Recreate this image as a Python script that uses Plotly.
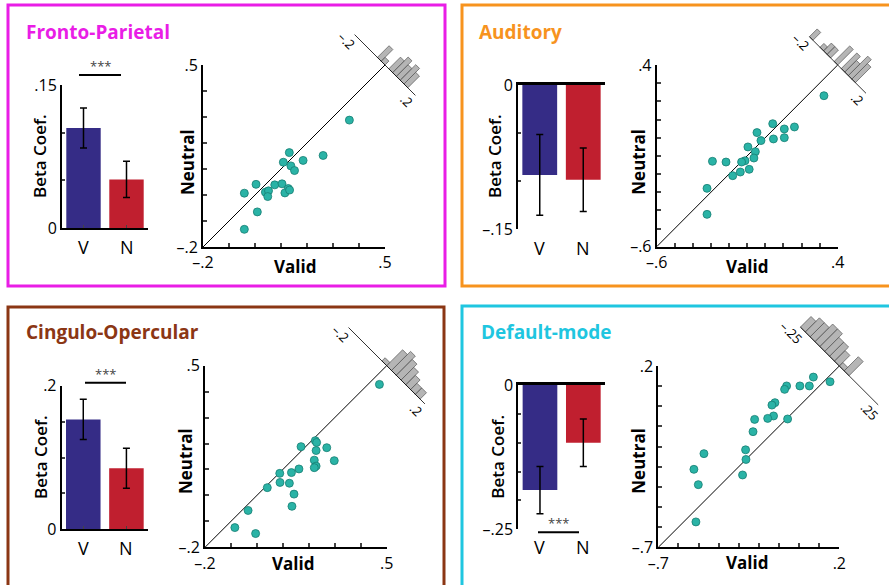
import numpy as np
import plotly.graph_objects as go

W, H = 889, 585
FONT = "Open Sans"

# ---------------- data ----------------
titles = ["Fronto-Parietal", "Auditory", "Cingulo-Opercular", "Default-mode"]
title_colors = ["#e91de6", "#f7931e", "#8b3614", "#1fc6e0"]
conditions = ["V", "N"]

fp_beta = [0.105, 0.051]
fp_sem = [0.021, 0.019]
au_beta = [-0.0935, -0.0985]
au_sem = [0.042, 0.033]
co_beta = [0.153, 0.085]
co_sem = [0.028, 0.028]
dm_beta = [-0.182, -0.100]
dm_sem = [0.041, 0.041]

fp_valid = [0.363, 0.262, 0.185, 0.132, 0.109, 0.138, 0.152, 0.076, 0.104, 0.128,
            0.115, 0.133, 0.004, 0.040, 0.052, 0.049, -0.041, 0.009, -0.041]
fp_neutral = [0.288, 0.152, 0.133, 0.163, 0.126, 0.112, 0.094, 0.039, 0.043, 0.025,
              0.008, 0.019, 0.041, 0.011, 0.016, -0.006, 0.007, -0.065, -0.132]
au_valid = [0.324, 0.161, 0.105, 0.105, 0.045, 0.041, -0.024, -0.046, -0.096, -0.055,
            -0.063, -0.112, -0.131, -0.089, -0.138, -0.180, -0.217, -0.292, -0.322, -0.322]
au_neutral = [0.231, 0.059, 0.048, 0.000, -0.007, 0.077, -0.016, 0.028, -0.051, -0.077,
              -0.112, -0.127, -0.134, -0.174, -0.189, -0.209, -0.134, -0.130, -0.279, -0.422]
co_valid = [0.472, 0.225, 0.230, 0.269, 0.228, 0.170, 0.298, 0.221, 0.228, 0.221, 0.162,
            0.133, 0.088, 0.125, 0.089, 0.040, 0.143, 0.135, -0.034, -0.085, -0.005]
co_neutral = [0.428, 0.211, 0.204, 0.184, 0.173, 0.188, 0.134, 0.136, 0.113, 0.107, 0.102,
              0.088, 0.085, 0.047, 0.050, 0.030, 0.005, -0.042, -0.058, -0.124, -0.147]
dm_valid = [0.154, 0.071, 0.051, 0.004, -0.062, -0.072, -0.120, -0.135, -0.127, -0.156,
            -0.057, -0.221, -0.229, -0.266, -0.264, -0.281, -0.473, -0.523, -0.501, -0.513]
dm_neutral = [0.122, 0.145, 0.101, 0.101, 0.101, 0.084, 0.018, 0.006, -0.048, -0.060,
              -0.063, -0.065, -0.126, -0.216, -0.264, -0.341, -0.235, -0.313, -0.389, -0.574]

# difference histograms (16 equal bins spanning -lim..+lim)
hist_lims = [0.2, 0.2, 0.2, 0.25]
fp_hist = [0, 0, 0, 0, 0, 0, 3, 1, 0, 3, 4, 3, 4, 3, 0, 0]
au_hist = [2, 0, 0, 1, 2, 2, 0, 4, 0, 4, 3, 5, 4, 0, 0, 0]
co_hist = [0, 0, 0, 0, 0, 0, 0, 1, 5, 6, 5, 4, 3, 2, 2, 0]
dm_hist = [3, 4, 4, 5, 5, 4, 4, 3, 1, 4, 0, 0, 0, 0, 0, 0]

scatter_ranges = [[-0.2, 0.5], [-0.6, 0.4], [-0.2, 0.5], [-0.7, 0.2]]
bar_ranges = [[0, 0.15], [-0.15, 0], [0, 0.2], [-0.25, 0]]
bar_ticks = [[0, 0.05, 0.1, 0.15], [-0.15, -0.1, -0.05, 0],
             [0, 0.05, 0.1, 0.15, 0.2], [-0.25, -0.2, -0.15, -0.1, -0.05, 0]]
bar_ticktext = [["0", "", "", ".15"], ["–.15", "", "", "0"],
                ["0", "", "", "", ".2"], ["–.25", "", "", "", "", "0"]]
scatter_ticktext = [["–.2", ".5"], ["–.6", ".4"], ["–.2", ".5"], ["–.7", ".2"]]
hist_ticktext = [["–.2", ".2"], ["–.2", ".2"], ["–.2", ".2"], ["–.25", ".25"]]

betas = [fp_beta, au_beta, co_beta, dm_beta]
sems = [fp_sem, au_sem, co_sem, dm_sem]
valids = [fp_valid, au_valid, co_valid, dm_valid]
neutrals = [fp_neutral, au_neutral, co_neutral, dm_neutral]
hists = [fp_hist, au_hist, co_hist, dm_hist]

# ---------------- layout geometry (pixels) ----------------
borders = [(8, 445, 5, 286), (462, 900, 5, 286), (8, 444, 307, 600), (462, 900, 306, 600)]
bar_box = [(62, 148, 85, 228), (518, 605, 85, 229.3), (61.7, 148, 385.7, 529.3), (518.3, 605, 385, 529.3)]
sc_box = [(203, 385, 65, 247), (656.7, 837.7, 65, 246.7), (205, 386.7, 365.7, 547.3), (658.3, 839.3, 366, 547.3)]
ov_ext = [(445, 2), (889, 0), (445, 300), (889, 300)]  # right px, top px of overlay area
hist_half = [43, 40, 54, 55]
hist_unit = [5.5, 5.5, 4.5, 5.0]
title_pos = [(24, 32), (477, 32), (24, 332), (479, 332)]
beta_lbl = [(40, 156), (495, 156), (40, 457), (496.7, 457)]
neutral_lbl = [(187, 162), (637.7, 162), (185, 461), (637.7, 461)]
valid_lbl = [(295, 267), (746.7, 267), (293.3, 563), (746.7, 562)]
vn_y = [247, 248, 548.3, 546.7]
sig = {0: (79, 121, 75), 2: (85, 126, 382.7), 3: (538, 579, 532.3)}


def PX(px):
    return px / W


def PY(py):
    return 1 - py / H


fig = go.Figure()
layout = dict(template="none", width=W, height=H,
              margin=dict(l=0, r=0, t=0, b=0, pad=0, autoexpand=False),
              paper_bgcolor="white", plot_bgcolor="rgba(0,0,0,0)", showlegend=False,
              font=dict(family=FONT, color="black"))
annotations = []
shapes = []

V_COLOR, N_COLOR = "#352c86", "#c01f2f"
PT_COLOR, PT_EDGE = "#2ab3a6", "#167d72"
TICK_FONT = dict(size=16, color="black")

for i in range(4):
    bi, si, oi = i + 1, i + 5, i + 9
    # ---------- bars ----------
    bx0, bx1, by0, by1 = bar_box[i]
    fig.add_trace(go.Bar(x=[0, 1], y=betas[i], width=0.8,
                         marker=dict(color=[V_COLOR, N_COLOR], line=dict(width=0)),
                         error_y=dict(type="data", array=sems[i], color="black", thickness=1.5, width=3.5),
                         xaxis=f"x{bi}", yaxis=f"y{bi}"))
    neg = bar_ranges[i][1] <= 0
    layout[f"xaxis{bi}"] = dict(domain=[PX(bx0), PX(bx1)], range=[-0.5, 1.5], anchor=f"y{bi}",
                                showline=True, linewidth=2.5 if neg else 2, linecolor="black",
                                side="top" if neg else "bottom",
                                ticks="" if neg else "inside", tickvals=[0, 1], ticklen=3,
                                showticklabels=False, showgrid=False, zeroline=False, fixedrange=True)
    layout[f"yaxis{bi}"] = dict(domain=[PY(by1), PY(by0)], range=bar_ranges[i], anchor=f"x{bi}",
                                showline=True, linewidth=2, linecolor="black", ticks="inside",
                                ticklen=3, tickwidth=1.5, tickvals=bar_ticks[i], ticktext=bar_ticktext[i],
                                tickfont=TICK_FONT, showgrid=False, zeroline=False)
    for k, lab in enumerate(conditions):
        annotations.append(dict(x=k, xref=f"x{bi}", y=PY(vn_y[i]), yref="paper", text=lab,
                                showarrow=False, font=dict(size=18), xanchor="center", yanchor="middle"))
    # ---------- scatter ----------
    sx0, sx1, sy0, sy1 = sc_box[i]
    lo, hi = scatter_ranges[i]
    fig.add_trace(go.Scatter(x=[lo, hi], y=[lo, hi], mode="lines", line=dict(color="black", width=1),
                             xaxis=f"x{si}", yaxis=f"y{si}", hoverinfo="skip"))
    fig.add_trace(go.Scatter(x=valids[i], y=neutrals[i], mode="markers",
                             marker=dict(size=8, color=PT_COLOR, line=dict(color=PT_EDGE, width=0.8)),
                             xaxis=f"x{si}", yaxis=f"y{si}", cliponaxis=False))
    tv = list(np.round(np.arange(lo, hi + 1e-9, 0.1), 2))
    tt = [scatter_ticktext[i][0]] + [""] * (len(tv) - 2) + [scatter_ticktext[i][1]]
    common = dict(showline=True, linewidth=2, linecolor="black", ticks="inside", ticklen=4,
                  tickwidth=1.5, tickvals=tv, ticktext=tt, tickfont=TICK_FONT,
                  showgrid=False, zeroline=False, range=[lo, hi])
    layout[f"xaxis{si}"] = dict(domain=[PX(sx0), PX(sx1)], anchor=f"y{si}", **common)
    layout[f"yaxis{si}"] = dict(domain=[PY(sy1), PY(sy0)], anchor=f"x{si}", **common)
    # ---------- overlay (same scale) for rotated histogram ----------
    ox1, oy0 = ov_ext[i]
    ux = (hi - lo) / (sx1 - sx0)
    uy = (hi - lo) / (sy1 - sy0)
    layout[f"xaxis{oi}"] = dict(domain=[PX(sx0), PX(ox1)], range=[lo, lo + (ox1 - sx0) * ux],
                                anchor=f"y{oi}", visible=False, fixedrange=True)
    layout[f"yaxis{oi}"] = dict(domain=[PY(sy1), PY(oy0)], range=[lo, lo + (sy1 - oy0) * uy],
                                anchor=f"x{oi}", visible=False, fixedrange=True)
    lim = hist_lims[i]
    L = hist_half[i]
    r = 1 / np.sqrt(2)

    def to_data(a, h):
        return hi + (a + h) * r * ux, hi + (h - a) * r * uy

    edges = np.linspace(-lim, lim, len(hists[i]) + 1)
    xs, ys = [], []
    for k, cnt in enumerate(hists[i]):
        if cnt <= 0:
            continue
        a0 = edges[k] / lim * L
        a1 = edges[k + 1] / lim * L
        h = cnt * hist_unit[i]
        for a, hh in [(a0, 0), (a1, 0), (a1, h), (a0, h), (a0, 0)]:
            px_, py_ = to_data(a, hh)
            xs.append(px_)
            ys.append(py_)
        xs.append(None)
        ys.append(None)
    fig.add_trace(go.Scatter(x=xs, y=ys, mode="lines", fill="toself", fillcolor="#b5b5b5",
                             line=dict(color="#666666", width=0.8), xaxis=f"x{oi}", yaxis=f"y{oi}",
                             hoverinfo="skip"))
    e0 = to_data(-L, 0)
    e1 = to_data(L, 0)
    fig.add_trace(go.Scatter(x=[e0[0], e1[0]], y=[e0[1], e1[1]], mode="lines",
                             line=dict(color="black", width=0.8), xaxis=f"x{oi}", yaxis=f"y{oi}",
                             hoverinfo="skip"))
    for a, txt in [(-L - 2, hist_ticktext[i][0]), (L - 2, hist_ticktext[i][1])]:
        lx, ly = to_data(a, -10)
        annotations.append(dict(x=lx, y=ly, xref=f"x{oi}", yref=f"y{oi}", text=txt, textangle=45,
                                showarrow=False, font=dict(size=13), xanchor="center", yanchor="middle"))
    # ---------- text ----------
    tx, ty = title_pos[i]
    annotations.append(dict(x=PX(tx), y=PY(ty), xref="paper", yref="paper", text=f"<b>{titles[i]}</b>",
                            showarrow=False, xanchor="left", yanchor="middle",
                            font=dict(size=19, color=title_colors[i])))
    annotations.append(dict(x=PX(beta_lbl[i][0]), y=PY(beta_lbl[i][1]), xref="paper", yref="paper",
                            text="Beta Coef.", textangle=-90, showarrow=False,
                            font=dict(size=17, weight=600), xanchor="center", yanchor="middle"))
    annotations.append(dict(x=PX(neutral_lbl[i][0]), y=PY(neutral_lbl[i][1]), xref="paper", yref="paper",
                            text="<b>Neutral</b>", textangle=-90, showarrow=False,
                            font=dict(size=17), xanchor="center", yanchor="middle"))
    annotations.append(dict(x=PX(valid_lbl[i][0]), y=PY(valid_lbl[i][1]), xref="paper", yref="paper",
                            text="<b>Valid</b>", showarrow=False,
                            font=dict(size=17), xanchor="center", yanchor="middle"))
    # ---------- border ----------
    x0, x1, y0, y1 = borders[i]
    shapes.append(dict(type="rect", xref="paper", yref="paper", x0=PX(x0), x1=PX(x1),
                       y0=PY(y1), y1=PY(y0), line=dict(color=title_colors[i], width=3)))
    if i in sig:
        a, b, yy = sig[i]
        shapes.append(dict(type="line", xref="paper", yref="paper", x0=PX(a), x1=PX(b),
                           y0=PY(yy), y1=PY(yy), line=dict(color="black", width=2)))
        annotations.append(dict(x=PX((a + b) / 2), y=PY(yy - 9), xref="paper", yref="paper",
                                text="***", showarrow=False, font=dict(size=13, color="#444"),
                                xanchor="center", yanchor="middle"))

layout["annotations"] = annotations
layout["shapes"] = shapes
fig.update_layout(**layout)
fig.write_html("out.html", config={"displayModeBar": False},
               post_script="document.body.style.margin='0';document.body.style.overflow='hidden';")
